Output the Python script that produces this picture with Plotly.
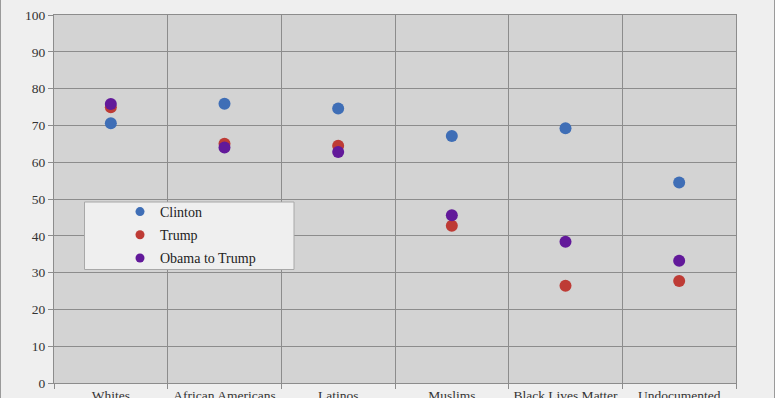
import plotly.graph_objects as go

categories = ["Whites", "African Americans", "Latinos", "Muslims", "Black Lives Matter", "Undocumented<br>Immigrants"]
clinton = [70.6, 75.9, 74.6, 67.1, 69.2, 54.5]
trump = [74.9, 65.0, 64.5, 42.7, 26.4, 27.7]
obama_to_trump = [75.8, 64.0, 62.8, 45.6, 38.4, 33.2]
y_ticks = list(range(0, 101, 10))

series = [
    ("Clinton", clinton, "#3F6EB6"),
    ("Trump", trump, "#BE3B35"),
    ("Obama to Trump", obama_to_trump, "#62199A"),
]

fig = go.Figure()
for name, vals, color in series:
    fig.add_trace(go.Scatter(
        x=categories, y=vals, name=name, mode="markers",
        legendgroup=name, showlegend=False,
        marker=dict(color=color, size=12, line=dict(width=0)),
    ))
# legend entries with the smaller symbols of the reference legend
for name, vals, color in series:
    fig.add_trace(go.Scatter(
        x=[None], y=[None], name=name, mode="markers",
        legendgroup=name, showlegend=True,
        marker=dict(color=color, size=9, line=dict(width=0)),
    ))

W, H = 775, 398
ml, mr, mt, mb = 54, 39, 15, 15
pw = W - ml - mr
ph = H - mt - mb

def px_x(p):
    return (p - ml) / pw

def px_y(p):
    return (H - mb - p) / ph

grid = "#8C8C8C"
fig.update_layout(
    width=W, height=H,
    margin=dict(l=ml, r=mr, t=mt, b=mb, autoexpand=False),
    paper_bgcolor="#EFEFEF",
    plot_bgcolor="#D3D3D3",
    font=dict(family="Liberation Serif, Times New Roman, serif", size=13.5, color="#333333"),
    showlegend=True,
    legend=dict(
        x=px_x(120), y=px_y(196), xanchor="left", yanchor="top",
        bgcolor="rgba(0,0,0,0)", borderwidth=0,
        font=dict(size=14, color="#222222"),
        tracegroupgap=2, itemsizing="trace",
    ),
    xaxis=dict(
        type="category", range=[-0.5, 5.5],
        tickson="boundaries", showgrid=True, gridcolor=grid, gridwidth=1,
        ticks="outside", ticklen=5, tickcolor=grid, tickangle=0,
        showline=True, linecolor=grid, linewidth=1, mirror=True,
        automargin=False, fixedrange=True,
    ),
    yaxis=dict(
        range=[0, 100], tickvals=y_ticks, showgrid=True, gridcolor=grid, gridwidth=1,
        ticks="outside", ticklen=5, tickcolor=grid,
        showline=True, linecolor=grid, linewidth=1, mirror=True,
        zeroline=False, automargin=False, fixedrange=True,
    ),
    shapes=[
        dict(type="rect", xref="paper", yref="paper",
             x0=px_x(84.5), x1=px_x(294), y0=px_y(269.5), y1=px_y(202),
             fillcolor="#EFEFEF", line=dict(color="#A8A8A8", width=1), layer="above"),
        dict(type="line", xref="paper", yref="paper",
             x0=px_x(0.5), x1=px_x(0.5), y0=px_y(0), y1=px_y(H),
             line=dict(color="#9A9A9A", width=1)),
        dict(type="line", xref="paper", yref="paper",
             x0=px_x(774.5), x1=px_x(774.5), y0=px_y(0), y1=px_y(H),
             line=dict(color="#9A9A9A", width=1)),
    ],
)

fig.write_html(
    "out.html",
    config={"displayModeBar": False, "staticPlot": True},
    post_script="document.body.style.margin='0';document.body.style.padding='0';"
                "document.body.style.background='#EFEFEF';document.body.style.overflow='hidden';",
)
